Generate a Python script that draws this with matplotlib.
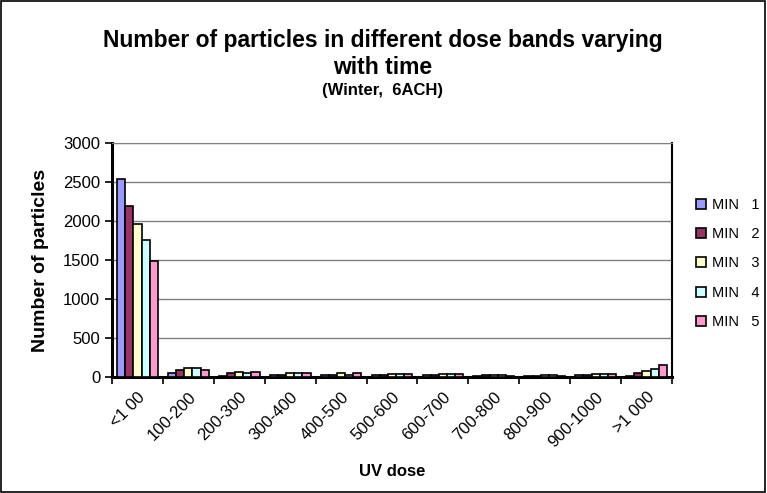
import numpy as np
import matplotlib
matplotlib.use("Agg")
import matplotlib.pyplot as plt

plt.rcParams["font.family"] = ["Liberation Sans", "DejaVu Sans"]

# ---------------------------------------------------------------------------
# Data
# ---------------------------------------------------------------------------
bands = ["<1 00", "100-200", "200-300", "300-400", "400-500", "500-600",
         "600-700", "700-800", "800-900", "900-1000", ">1 000"]
series = ["MIN   1", "MIN   2", "MIN   3", "MIN   4", "MIN   5"]
min1 = [2540, 50, 10, 30, 30, 20, 30, 15, 10, 30, 15]
min2 = [2190, 90, 50, 30, 30, 20, 30, 20, 15, 30, 50]
min3 = [1960, 110, 70, 50, 50, 35, 35, 30, 20, 35, 75]
min4 = [1760, 110, 50, 50, 30, 35, 35, 30, 20, 35, 100]
min5 = [1490, 90, 70, 50, 50, 35, 35, 15, 15, 35, 160]
colors = ["#9999FF", "#993366", "#FFFFCC", "#CCFFFF", "#FF99CC"]

# ---------------------------------------------------------------------------
# Plot
# ---------------------------------------------------------------------------
fig = plt.figure(figsize=(7.67, 4.93), dpi=100)
ax = fig.add_axes([112 / 767, 1 - 377 / 493, (672 - 112) / 767, (377 - 143) / 493])

x = np.arange(len(bands))
w = 0.16
for i, (vals, lab, col) in enumerate(zip([min1, min2, min3, min4, min5], series, colors)):
    ax.bar(x + (i - 2) * w, vals, w, color=col, edgecolor="black", linewidth=1.2,
           label=lab, zorder=3)

ax.set_xlim(-0.5, len(bands) - 0.5)
ax.set_ylim(0, 3000)
ax.set_yticks(np.arange(0, 3001, 500))
ax.yaxis.grid(True, color="#808080", linewidth=1, zorder=0)
ax.set_xticks(np.arange(-0.5, len(bands), 1.0), minor=False)
ax.set_xticklabels([])
ax.set_xticks(x, minor=True)
ax.set_xticklabels(bands, minor=True, rotation=45, ha="right", rotation_mode="anchor",
                   fontsize=12)
ax.tick_params(axis="x", which="minor", length=0, pad=9)
ax.tick_params(axis="x", which="major", length=5, width=1.2, direction="out")
ax.tick_params(axis="y", length=5, width=1.2, labelsize=12)

for s in ["left", "bottom"]:
    ax.spines[s].set_linewidth(2.2)
ax.spines["right"].set_linewidth(1.5)
ax.spines["top"].set_color("#808080")

ax.set_ylabel("Number of particles", fontsize=14, fontweight="bold", labelpad=10)
ax.set_xlabel("UV dose", fontsize=12, fontweight="bold", labelpad=10)

fig.text(383 / 767, 1 - 40 / 493, "Number of particles in different dose bands varying",
         ha="center", va="center", fontsize=16.5, fontweight="bold")
fig.text(383 / 767, 1 - 68 / 493, "with time", ha="center", va="center",
         fontsize=16.5, fontweight="bold")
fig.text(383 / 767, 1 - 91 / 493, "(Winter,  6ACH)", ha="center", va="center",
         fontsize=12, fontweight="bold")

leg = ax.legend(loc="upper left", bbox_to_anchor=(690 / 767, 1 - 192 / 493),
                bbox_transform=fig.transFigure, frameon=False, fontsize=10.5,
                handlelength=0.7, handleheight=0.7, labelspacing=1.05, handletextpad=0.4,
                borderaxespad=0)

# outer chart border
fig.patches.append(plt.Rectangle((0.001, 0.002), 0.997, 0.996, transform=fig.transFigure,
                                 fill=False, edgecolor="black", linewidth=1.2))

plt.savefig("out.png", dpi=100)
plt.close()
